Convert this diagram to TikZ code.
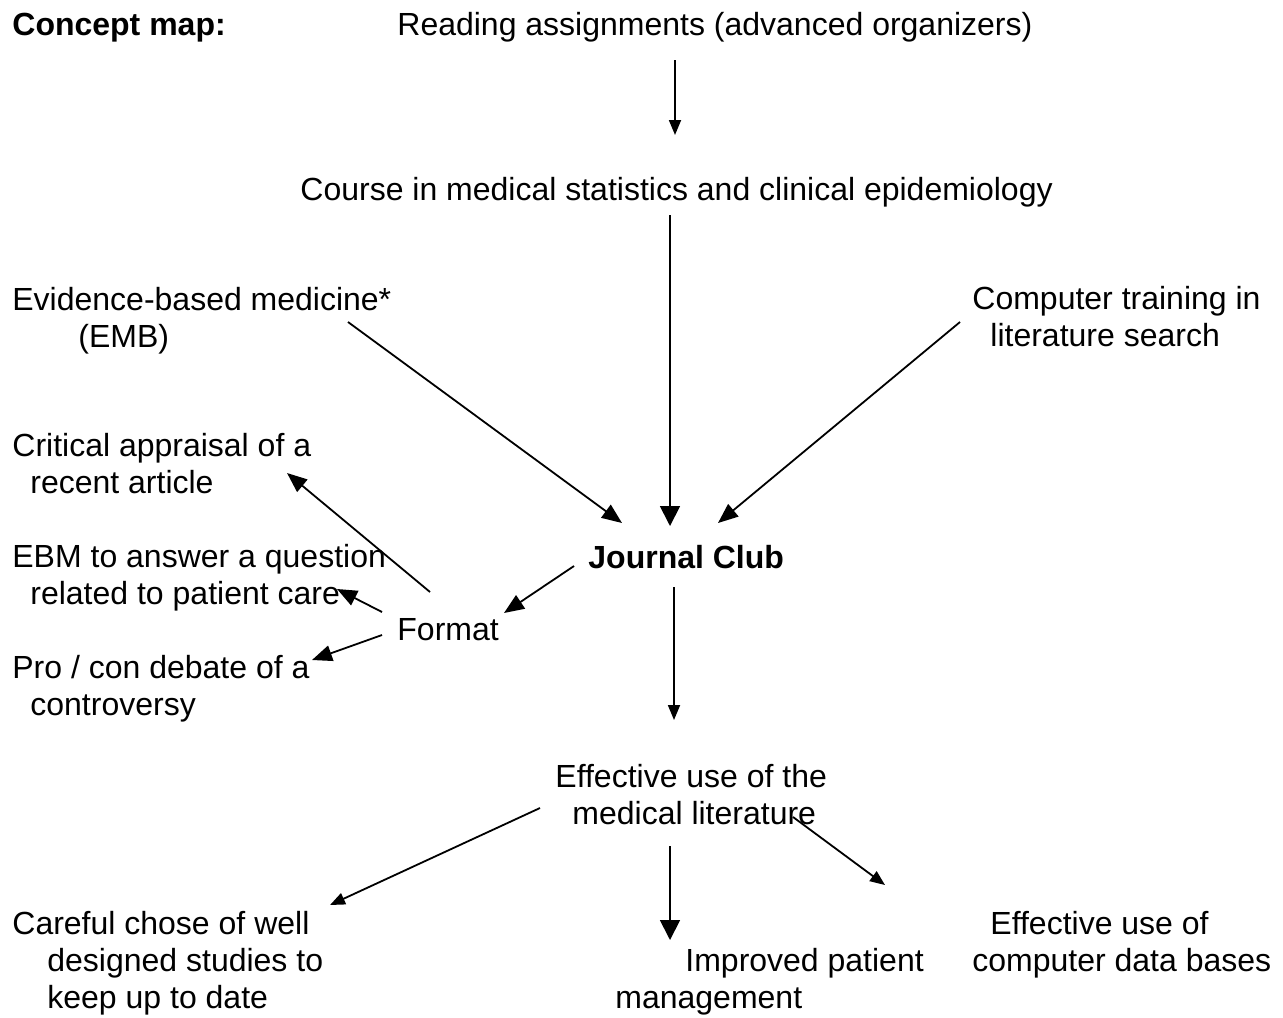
\documentclass[tikz,border=0pt]{standalone}
\usepackage{fontspec}
\setmainfont{Liberation Sans}
\usetikzlibrary{arrows.meta}

\begin{document}
\begin{tikzpicture}[x=0.5pt,y=-0.5pt,
  every node/.style={inner sep=0pt,anchor=base west,align=left},
  concept/.style={font=\fontsize{16}{18.4}\selectfont},
  keyconcept/.style={font=\fontsize{16}{18.4}\selectfont\bfseries},
  link/.style={line width=0.9pt},
  tipbig/.style={link,-{Triangle[length=10pt,width=10pt]}},
  tipmid/.style={link,-{Triangle[length=10pt,width=8pt]}},
  tipsmall/.style={link,-{Triangle[length=7.5pt,width=6pt]}}]
  \useasboundingbox (0,0) rectangle (1283,1017);

  % concepts (multi-line nodes sit on their last line)
  \node[keyconcept] (title) at (12,35) {Concept map:};
  \node[concept] (reading) at (397,35) {Reading assignments (advanced organizers)};
  \node[concept] (course) at (300,200) {Course in medical statistics and clinical epidemiology};
  \node[concept] (ebm) at (12,347) {Evidence-based medicine*\\\hspace*{33pt}(EMB)};
  \node[concept] (search) at (972,346) {Computer training in\\\hspace*{9pt}literature search};
  \node[keyconcept] (club) at (588,568) {Journal Club};
  \node[concept] (format) at (397,640) {Format};
  \node[concept] (critical) at (12,493) {Critical appraisal of a\\\hspace*{9pt}recent article};
  \node[concept] (question) at (12,604) {EBM to answer a question\\\hspace*{9pt}related to patient care};
  \node[concept] (debate) at (12,715) {Pro / con debate of a\\\hspace*{9pt}controversy};
  \node[concept] (literature) at (555,824) {Effective use of the\\\hspace*{8.5pt}medical literature};
  \node[concept] (studies) at (12,1008) {Careful chose of well\\\hspace*{17.5pt}designed studies to\\\hspace*{17.5pt}keep up to date};
  \node[concept] (patient) at (615,1008) {\hspace*{35pt}Improved patient\\management};
  \node[concept] (databases) at (972,971) {\hspace*{9pt}Effective use of\\computer data bases};

  % arrow ends
  \coordinate (reading-out) at (675,60);
  \coordinate (course-in) at (675,135);
  \coordinate (course-out) at (670,215);
  \coordinate (club-in-top) at (670,526);
  \coordinate (ebm-out) at (348,322);
  \coordinate (club-in-left) at (622,523);
  \coordinate (search-out) at (960,322);
  \coordinate (club-in-right) at (718,523);
  \coordinate (club-out-left) at (574,566);
  \coordinate (format-in) at (504,613);
  \coordinate (format-out-up) at (430,592);
  \coordinate (critical-in) at (287,473);
  \coordinate (format-out-mid) at (382,612);
  \coordinate (question-in) at (337,589);
  \coordinate (format-out-low) at (382,635);
  \coordinate (debate-in) at (312,660);
  \coordinate (club-out-down) at (674,587);
  \coordinate (literature-in) at (674,720);
  \coordinate (literature-out-left) at (540,808);
  \coordinate (studies-in) at (330,905);
  \coordinate (literature-out-down) at (670,846);
  \coordinate (patient-in) at (670,940);
  \coordinate (literature-out-right) at (793,817);
  \coordinate (databases-in) at (885,885);

  % links
  \draw[tipsmall] (reading-out) -- (course-in);
  \draw[tipbig] (course-out) -- (club-in-top);
  \draw[tipmid] (ebm-out) -- (club-in-left);
  \draw[tipmid] (search-out) -- (club-in-right);
  \draw[tipmid] (club-out-left) -- (format-in);
  \draw[tipmid] (format-out-up) -- (critical-in);
  \draw[tipmid] (format-out-mid) -- (question-in);
  \draw[tipmid] (format-out-low) -- (debate-in);
  \draw[tipsmall] (club-out-down) -- (literature-in);
  \draw[tipsmall] (literature-out-left) -- (studies-in);
  \draw[tipbig] (literature-out-down) -- (patient-in);
  \draw[tipsmall] (literature-out-right) -- (databases-in);
\end{tikzpicture}
\end{document}
